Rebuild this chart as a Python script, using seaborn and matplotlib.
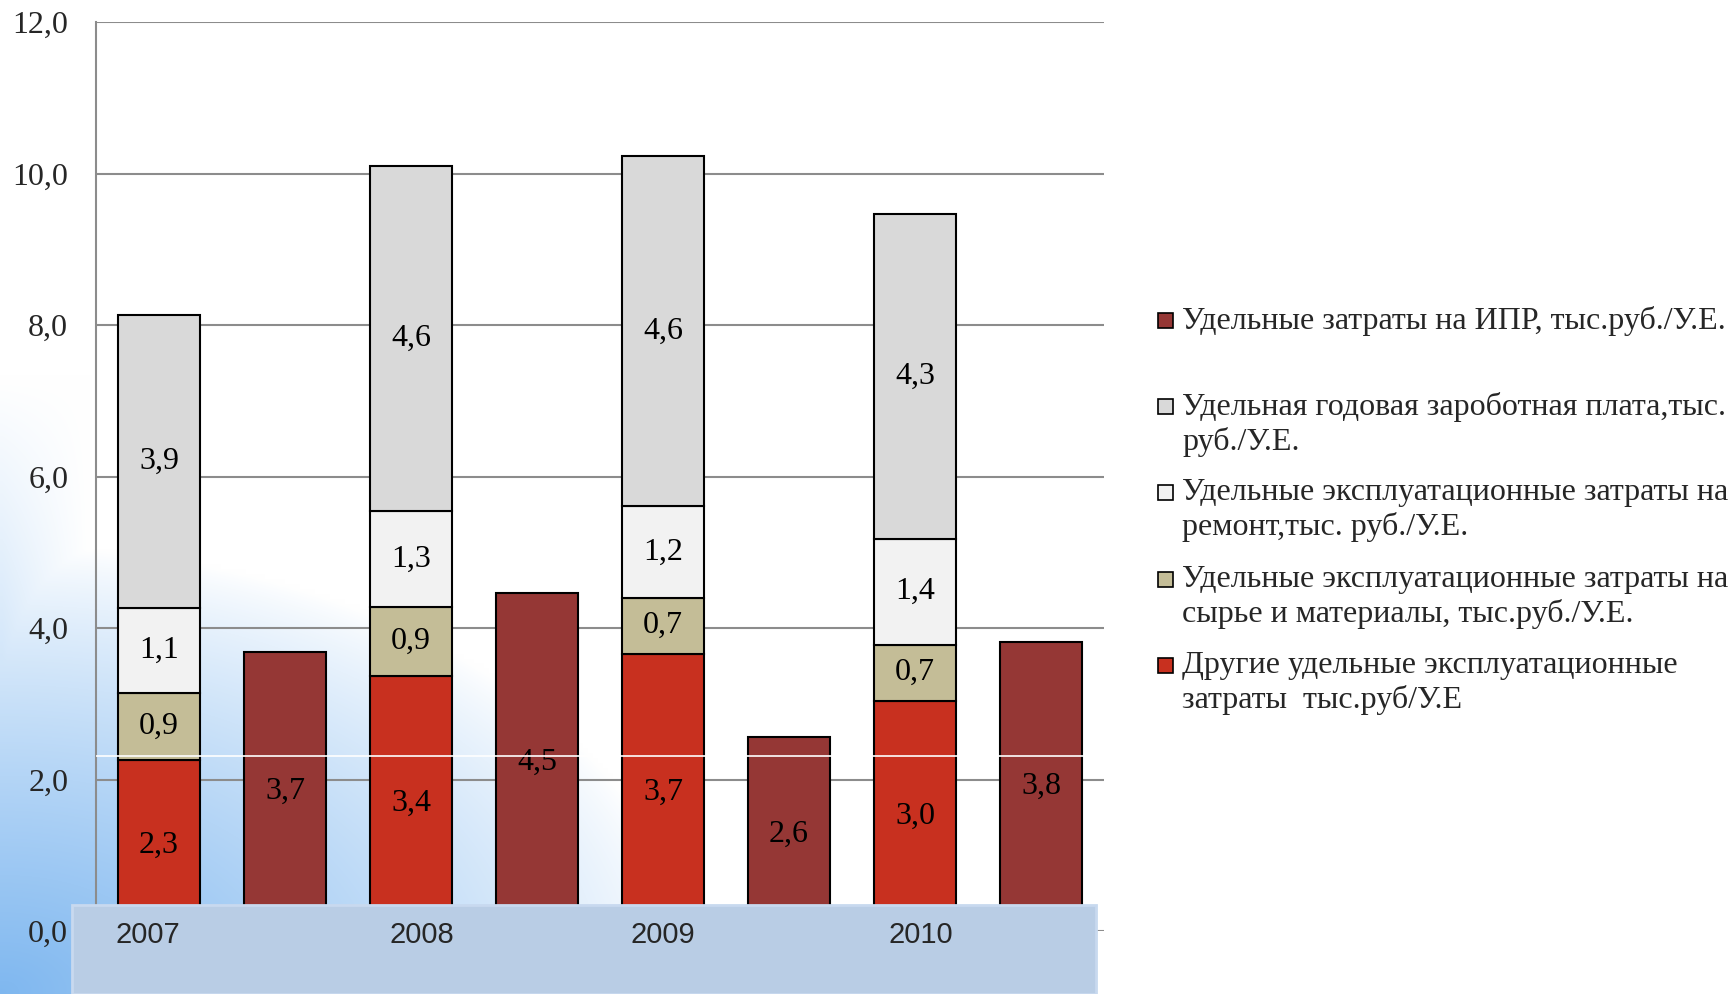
import numpy as np
import seaborn as sns
import matplotlib.pyplot as plt
from matplotlib.patches import Rectangle

# data
years = ['2007', '2008', '2009', '2010']
other = [2.26, 3.36, 3.66, 3.04]        # Другие удельные эксплуатационные затраты
materials = [0.88, 0.92, 0.74, 0.74]    # сырье и материалы
repair = [1.12, 1.26, 1.21, 1.40]       # ремонт
salary = [3.87, 4.56, 4.62, 4.28]       # годовая заработная плата
ipr = [3.68, 4.46, 2.56, 3.82]          # затраты на ИПР

legend_labels = [
    'Удельные затраты на ИПР, тыс.руб./У.Е.',
    'Удельная годовая зароботная плата,тыс.\nруб./У.Е.',
    'Удельные эксплуатационные затраты на\nремонт,тыс. руб./У.Е.',
    'Удельные эксплуатационные затраты на\nсырье и материалы, тыс.руб./У.Е.',
    'Другие удельные эксплуатационные\nзатраты  тыс.руб/У.Е',
]
yticks = [0, 2, 4, 6, 8, 10, 12]
ytick_labels = ['0,0', '2,0', '4,0', '6,0', '8,0', '10,0', '12,0']

c_other = '#C8301F'
c_mat = '#C4BD97'
c_rep = '#F2F2F2'
c_sal = '#D9D9D9'
c_ipr = '#953735'

sns.set_style('white')
plt.rcParams['font.family'] = ['Liberation Serif', 'DejaVu Serif']

W, H = 1735, 994
fig = plt.figure(figsize=(W / 100, H / 100), dpi=100)

# slide background gradient
bg = fig.add_axes([0, 0, 1, 1], zorder=-1)
u = np.linspace(0, 1, 350)[None, :]
v = np.linspace(1, 0, 200)[:, None]
t = np.clip(1 - np.sqrt((u / 0.40) ** 2 + (v / 0.45) ** 2), 0, 1) ** 0.8
t = np.maximum(t, np.clip(1 - u / 0.05, 0, 1) * np.clip(1 - v / 0.62, 0, 1) * 0.75)
blue = np.array([0.50, 0.72, 0.94])
img = (1 - t[..., None]) * np.ones(3) + t[..., None] * blue
bg.imshow(img, aspect='auto', extent=[0, 1, 0, 1], interpolation='bilinear')
bg.axis('off')

ax = fig.add_axes([96 / W, 63 / H, 1008 / W, 909 / H])
ax.set_facecolor('none')

slots = [f's{i}' for i in range(8)]
stack_slots = slots[0::2]
ipr_slots = slots[1::2]

layers = [(other, c_other), (materials, c_mat), (repair, c_rep), (salary, c_sal)]
bottom = np.zeros(4)
for vals, col in layers:
    sns.barplot(x=stack_slots, y=vals, order=slots, bottom=bottom, color=col,
                saturation=1, width=0.65, edgecolor='black', linewidth=1.5,
                errorbar=None, ax=ax)
    bottom = bottom + np.array(vals)
sns.barplot(x=ipr_slots, y=ipr, order=slots, color=c_ipr, saturation=1,
            width=0.65, edgecolor='black', linewidth=1.5, errorbar=None, ax=ax)

all_vals = [other, materials, repair, salary, ipr]
for cont, vals in zip(ax.containers, all_vals):
    ax.bar_label(cont, labels=[f'{x:.1f}'.replace('.', ',') for x in vals],
                 label_type='center', fontsize=23, color='black')

# thin white line seen across the bars in the original
ax.axhline(2.31, color='white', lw=1.2, zorder=4)

ax.set_xlim(-0.5, 7.5)
ax.set_ylim(0, 12)
ax.set_yticks(yticks)
ax.set_yticklabels(ytick_labels, fontsize=23)
ax.tick_params(axis='y', length=0, pad=20)
ax.set_xticks([])
ax.set_xlabel('')
ax.set_ylabel('')
ax.yaxis.grid(True, color='#8c8c8c', lw=1.5)
ax.set_axisbelow(True)
for s in ['top', 'right', 'bottom']:
    ax.spines[s].set_visible(False)
ax.spines['left'].set_color('#8c8c8c')
ax.spines['left'].set_linewidth(1.5)

# blue category box at the bottom
fig.patches.append(Rectangle((72 / W, 0), 1024 / W, 89 / H, transform=fig.transFigure,
                             facecolor='#B9CDE5', edgecolor='#C8D9EF', lw=2, zorder=1))
year_x = [148, 422, 663, 921]
for yr, xp in zip(years, year_x):
    fig.text(xp / W, 1 - 935 / H, yr, ha='center', va='center', fontsize=21,
             family=['Liberation Sans Narrow', 'Liberation Sans'], zorder=2)

# legend
leg_colors = [c_ipr, c_sal, c_rep, c_mat, c_other]
leg_y = [320, 406, 492, 579, 665]
for lab, col, yp in zip(legend_labels, leg_colors, leg_y):
    fig.patches.append(Rectangle((1158 / W, 1 - (yp + 8) / H), 15 / W, 15 / H,
                                 transform=fig.transFigure, facecolor=col,
                                 edgecolor='black', lw=1.2))
    fig.text(1182 / W, 1 - (yp - 14) / H, lab, ha='left', va='top', fontsize=23,
             linespacing=1.2)

fig.savefig('out.png', dpi=100)
